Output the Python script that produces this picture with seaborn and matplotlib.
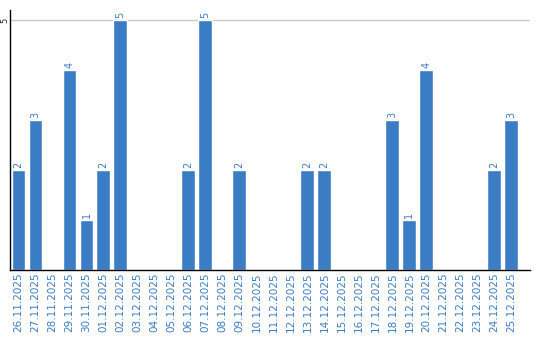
import matplotlib
matplotlib.use("Agg")
import matplotlib.pyplot as plt
import seaborn as sns
import pandas as pd

dates = ["26.11.2025", "27.11.2025", "28.11.2025", "29.11.2025", "30.11.2025",
         "01.12.2025", "02.12.2025", "03.12.2025", "04.12.2025", "05.12.2025",
         "06.12.2025", "07.12.2025", "08.12.2025", "09.12.2025", "10.12.2025",
         "11.12.2025", "12.12.2025", "13.12.2025", "14.12.2025", "15.12.2025",
         "16.12.2025", "17.12.2025", "18.12.2025", "19.12.2025", "20.12.2025",
         "21.12.2025", "22.12.2025", "23.12.2025", "24.12.2025", "25.12.2025"]
counts = [2, 3, 0, 4, 1, 2, 5, 0, 0, 0, 2, 5, 0, 2, 0,
          0, 0, 2, 2, 0, 0, 0, 3, 1, 4, 0, 0, 0, 2, 3]

df = pd.DataFrame({"date": dates, "count": counts})

sns.set_style("white")
blue = "#3b7dc4"

fig = plt.figure(figsize=(5.4, 3.4), dpi=100)
ax = fig.add_axes([10 / 540, 70 / 340, 520 / 540, 260 / 340])
sns.barplot(data=df, x="date", y="count", color=blue, saturation=1, width=0.82, ax=ax)

for i, v in enumerate(counts):
    if v > 0:
        ax.text(i, v + 0.05, str(v), rotation=90, ha="center", va="bottom",
                color=blue, fontsize=7)

ax.set_xlim(-0.5, 30.1)
ax.set_ylim(0, 5.2)
ax.set_yticks([5])
ax.set_yticklabels(["5"], rotation=90, va="center", ha="center", fontsize=6)
ax.yaxis.grid(True, color="#c8c8c8", linewidth=1)
ax.set_axisbelow(True)
ax.tick_params(axis="y", length=0, pad=3.6)
ax.tick_params(axis="x", length=0, pad=2)
ax.set_xticks(range(len(dates)))
ax.set_xticklabels(dates, rotation=90, color=blue, fontsize=7.5)
ax.set_xlabel("")
ax.set_ylabel("")
for s in ["top", "right"]:
    ax.spines[s].set_visible(False)
for s in ["left", "bottom"]:
    ax.spines[s].set_color("black")
    ax.spines[s].set_linewidth(1)

fig.savefig("out.png", dpi=100)
